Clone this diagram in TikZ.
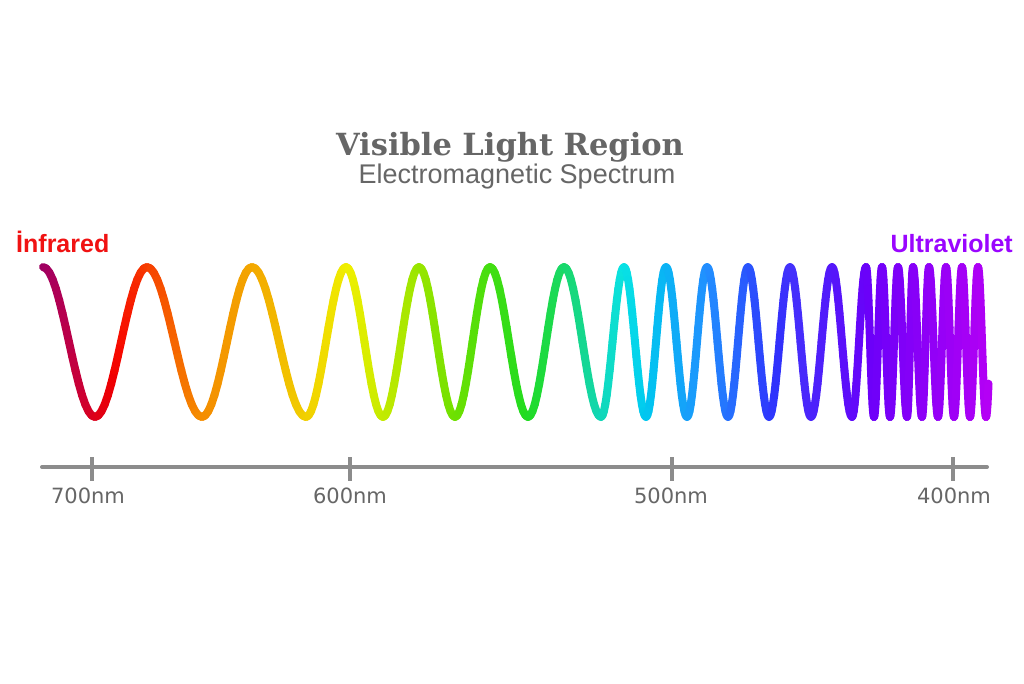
\documentclass[tikz,border=0pt]{standalone}
\usepackage{fontspec}
\setmainfont{Liberation Serif}
\setsansfont{Liberation Sans}
\newfontfamily\scalefont{DejaVu Sans}
\newfontfamily\headfont{DejaVu Serif}

\definecolor{titlegray}{HTML}{666666}
\definecolor{axisgray}{HTML}{8C8C8C}
\definecolor{irred}{HTML}{F01212}
\definecolor{uvviolet}{HTML}{9A05FF}

% colour along the wave, by x position
\pgfmathdeclarefunction{wavehue}{1}{%
  \begingroup
  \pgfmathparse{#1<95 ? -40+(#1-40)/55*32 : (#1<147 ? -8+(#1-95)/52*22 : (#1<200 ? 14+(#1-147)/53*20 : (#1<252 ? 34+(#1-200)/52*7 : (#1<346 ? 41+(#1-252)/94*18 : (#1<455 ? 59+(#1-346)/109*31 : (#1<528 ? 90+(#1-455)/73*30 : (#1<601 ? 120+(#1-528)/73*50 : (#1<646 ? 170+(#1-601)/45*20 : (#1<707 ? 190+(#1-646)/61*20 : (#1<790 ? 210+(#1-707)/83*35 : (#1<870 ? 245+(#1-790)/80*21 : 266+(#1-870)/120*18)))))))))))}%
  \pgfmathparse{mod(\pgfmathresult+360,360)}%
  \pgfmathsmuggle\pgfmathresult
  \endgroup}
\pgfmathdeclarefunction{wavesat}{1}{%
  \begingroup
  \pgfmathparse{#1<455 ? 1 : (#1<528 ? 1-(#1-455)/73*0.15 : (#1<601 ? 0.85+(#1-528)/73*0.07 : (#1<646 ? 0.92+(#1-601)/45*0.08 : (#1<707 ? 1-(#1-646)/61*0.13 : (#1<790 ? 0.87-(#1-707)/83*0.07 : (#1<870 ? 0.8+(#1-790)/80*0.2 : 1))))))}%
  \pgfmathsmuggle\pgfmathresult
  \endgroup}
\pgfmathdeclarefunction{wavebright}{1}{%
  \begingroup
  \pgfmathparse{#1<120 ? 0.6+(#1-40)/80*0.37 : (#1<346 ? 0.97-(#1-120)/226*0.03 : (#1<455 ? 0.94-(#1-346)/109*0.06 : (#1<601 ? 0.88-(#1-455)/146*0.04 : (#1<646 ? 0.84+(#1-601)/45*0.1 : (#1<707 ? 0.94+(#1-646)/61*0.06 : 1-(#1-707)/283*0.04)))))}%
  \pgfmathsmuggle\pgfmathresult
  \endgroup}

\tikzset{
  wave/.style={line width=8pt, line cap=round},
  axisline/.style={draw=axisgray, line width=4pt, line cap=round},
  axistick/.style={draw=axisgray, line width=4pt},
  nmlabel/.style={anchor=base, inner sep=0pt, text=titlegray, font=\scalefont\fontsize{21}{21}\selectfont},
  sidelabel/.style={inner sep=0pt, font=\sffamily\bfseries\fontsize{25}{25}\selectfont}
}

\begin{document}
\begin{tikzpicture}[x=1pt, y=-1pt]
    \useasboundingbox[fill=white] (0,0) rectangle (1024,683);

    % titles
    \node [anchor=base, inner sep=0pt, text=titlegray, font=\headfont\bfseries\fontsize{30.5}{30.5}\selectfont] (title) at (510,155) {Visible Light Region};
    \node [anchor=base, inner sep=0pt, text=titlegray, font=\sffamily\fontsize{27}{27}\selectfont] (subtitle) at (517,183) {Electromagnetic Spectrum};

    \node [sidelabel, text=irred, anchor=base west] (infrared) at (16,252) {İnfrared};
    \node [sidelabel, text=uvviolet, anchor=base east] (ultraviolet) at (1013,252) {Ultraviolet};

    % the wave, one half period at a time
    \foreach \xa/\xb/\s in {43/95/1, 95/147/-1, 147/202/1, 202/252/-1, 252/306/1, 306/346/-1,
        346/383/1, 383/419/-1, 419/455/1, 455/490/-1, 490/528/1, 528/564/-1, 564/601/1,
        601/624/-1, 624/646/1, 646/666/-1, 666/687/1, 687/707/-1, 707/728/1, 728/748/-1,
        748/769/1, 769/790/-1, 790/811/1, 811/832/-1, 832/852/1, 852/866/-1, 866/874/1,
        874/882/-1, 882/890/1, 890/898/-1, 898/907/1, 907/913/-1, 913/922/1, 922/929/-1,
        929/938/1, 938/946/-1, 946/954/1, 954/962/-1, 962/970/1, 970/978/-1, 978/986/1}
    {
        \foreach \k in {0,...,15} {
            \pgfmathsetmacro{\xp}{\xa+(\xb-\xa)*\k/16}
            \pgfmathsetmacro{\xq}{\xa+(\xb-\xa)*(\k+1)/16}
            \pgfmathsetmacro{\yp}{342-\s*75*cos(180*\k/16)}
            \pgfmathsetmacro{\yq}{342-\s*75*cos(180*(\k+1)/16)}
            \pgfmathsetmacro{\xm}{(\xp+\xq)/2}
            \pgfmathsetmacro{\hh}{wavehue(\xm)}
            \pgfmathsetmacro{\ss}{wavesat(\xm)}
            \pgfmathsetmacro{\bb}{wavebright(\xm)}
            \definecolor{segc}{Hsb}{\hh,\ss,\bb}
            \draw [wave, segc] (\xp,\yp) -- (\xq,\yq);
        }
    }
    % short rise at the end
    \foreach \k in {0,...,4} {
        \pgfmathsetmacro{\xp}{986+8*\k/16}
        \pgfmathsetmacro{\xq}{986+8*(\k+1)/16}
        \pgfmathsetmacro{\yp}{342+75*cos(180*\k/16)}
        \pgfmathsetmacro{\yq}{342+75*cos(180*(\k+1)/16)}
        \definecolor{segc}{Hsb}{284,1,0.96}
        \draw [wave, segc] (\xp,\yp) -- (\xq,\yq);
    }

    % wavelength scale
    \coordinate (axisstart) at (42,467);
    \coordinate (axisend) at (987,467);
    \draw [axisline] (axisstart) -- (axisend);
    \foreach \tx/\lx/\lab [count=\i] in {92/88/700nm, 350/350/600nm, 672/671/500nm, 953/954/400nm} {
        \coordinate (tick\i) at (\tx,467);
        \draw [axistick] ([yshift=10pt]tick\i) -- ([yshift=-14pt]tick\i);
        \node [nmlabel] (nm\i) at (\lx,503) {\lab};
    }
\end{tikzpicture}
\end{document}
